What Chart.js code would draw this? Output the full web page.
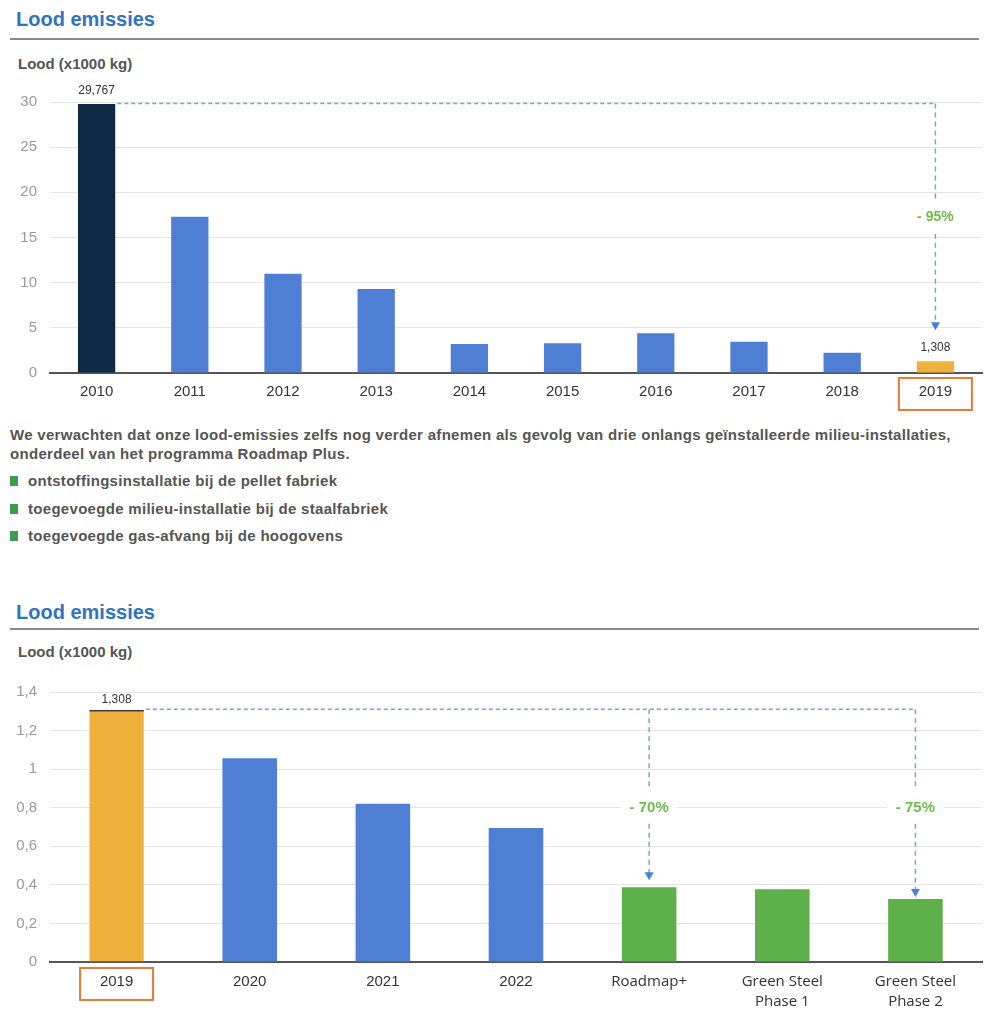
<!DOCTYPE html>
<html>
<head>
<meta charset="utf-8">
<script src="https://cdn.jsdelivr.net/npm/chart.js@4/dist/chart.umd.min.js"></script>
<style>
  html, body { margin:0; padding:0; background:#fff; }
  body { width:1007px; height:1024px; position:relative; overflow:hidden; font-family:"Liberation Sans", Arial, Helvetica, sans-serif; }
  .title { position:absolute; left:16px; font-size:20px; font-weight:bold; color:#2e74c0; line-height:24px; }
  .rule { position:absolute; left:10px; width:969px; height:2px; background:#8a8a8a; }
  .sub { position:absolute; left:18px; font-size:15px; font-weight:bold; color:#555; line-height:18px; }
  .para { position:absolute; left:10px; top:425px; font-size:15px; font-weight:bold; color:#555; line-height:19px; width:995px; letter-spacing:0.3px; white-space:nowrap; }
  .bul { position:absolute; left:28px; font-size:15px; font-weight:bold; color:#555; line-height:18px; letter-spacing:0.3px; white-space:nowrap; }
  .sq { position:absolute; left:10px; width:8px; height:10px; background:#3e9b4f; }
  canvas { position:absolute; left:0; }
</style>
</head>
<body>
<div class="title" style="top:7px">Lood emissies</div>
<div class="rule" style="top:38px"></div>
<div class="sub" style="top:55px">Lood (x1000 kg)</div>
<div style="position:absolute;left:0;top:80px;width:1007px;height:335px"><canvas id="c1"></canvas></div>

<div class="para">We verwachten dat onze lood-emissies zelfs nog verder afnemen als gevolg van drie onlangs geïnstalleerde milieu-installaties,<br>onderdeel van het programma Roadmap Plus.</div>
<div class="sq" style="top:476px"></div><div class="bul" style="top:472px">ontstoffingsinstallatie bij de pellet fabriek</div>
<div class="sq" style="top:504px"></div><div class="bul" style="top:500px">toegevoegde milieu-installatie bij de staalfabriek</div>
<div class="sq" style="top:531px"></div><div class="bul" style="top:527px">toegevoegde gas-afvang bij de hoogovens</div>

<div class="title" style="top:600px">Lood emissies</div>
<div class="rule" style="top:628px"></div>
<div class="sub" style="top:643px">Lood (x1000 kg)</div>
<div style="position:absolute;left:0;top:670px;width:1007px;height:350px"><canvas id="c2"></canvas></div>

<script>
// ---------- data ----------
const categories1 = ['2010','2011','2012','2013','2014','2015','2016','2017','2018','2019'];
const values1 = [29.767, 17.3, 11.0, 9.3, 3.2, 3.3, 4.4, 3.45, 2.25, 1.308];
const valueLabels1 = ['29,767', null, null, null, null, null, null, null, null, '1,308'];
const yTickValues1 = [0, 5, 10, 15, 20, 25, 30];
const yTickLabels1 = ['0', '5', '10', '15', '20', '25', '30'];

const categories2 = ['2019', '2020', '2021', '2022', 'Roadmap+', ['Green Steel', 'Phase 1'], ['Green Steel', 'Phase 2']];
const values2 = [1.308, 1.057, 0.82, 0.695, 0.388, 0.377, 0.327];
const valueLabels2 = ['1,308', null, null, null, null, null, null];
const yTickValues2 = [0, 0.2, 0.4, 0.6, 0.8, 1, 1.2, 1.4];
const yTickLabels2 = ['0', '0,2', '0,4', '0,6', '0,8', '1', '1,2', '1,4'];

const reductionLabels1 = ['- 95%'];
const reductionLabels2 = ['- 70%', '- 75%'];

// ---------- annotation plugin ----------
const annot = {
  id: 'annot',
  afterDatasetsDraw(chart, args, o) {
    const { ctx, chartArea, scales: { x, y } } = chart;
    const meta = chart.getDatasetMeta(0);
    ctx.save();
    ctx.font = '12px "Liberation Sans", Arial, sans-serif';
    ctx.fillStyle = '#333';
    ctx.textAlign = 'center';
    ctx.textBaseline = 'middle';
    o.valueLabels.forEach((t, i) => {
      if (!t) return;
      const b = meta.data[i];
      ctx.fillText(t, b.x, b.y - o.valueOffset);
    });
    const src = meta.data[o.from];
    const yTop = src.y - 0.5;
    const last = meta.data[o.targets[o.targets.length - 1].index];
    ctx.strokeStyle = '#78a2e6';
    ctx.lineWidth = 1.5;
    ctx.setLineDash([4, 3]);
    ctx.beginPath();
    ctx.moveTo(src.x + src.width / 2 + 2, yTop);
    ctx.lineTo(last.x, yTop);
    ctx.stroke();
    o.targets.forEach(t => {
      const b = meta.data[t.index];
      const tipY = b.y - t.gap;
      const labY = y.getPixelForValue(t.labelAt);
      ctx.strokeStyle = '#78a2e6';
      ctx.lineWidth = 1.5;
      ctx.setLineDash([5, 4]);
      ctx.beginPath();
      ctx.moveTo(b.x, yTop);
      ctx.lineTo(b.x, labY - t.gapAbove);
      ctx.moveTo(b.x, labY + t.gapBelow);
      ctx.lineTo(b.x, tipY - 7);
      ctx.stroke();
      ctx.setLineDash([]);
      ctx.fillStyle = '#4a7fdb';
      ctx.beginPath();
      ctx.moveTo(b.x - 4.5, tipY - 8);
      ctx.lineTo(b.x + 4.5, tipY - 8);
      ctx.lineTo(b.x, tipY);
      ctx.closePath();
      ctx.fill();
      ctx.font = 'bold ' + o.labelSize + 'px "Liberation Sans", Arial, sans-serif';
      const w = ctx.measureText(t.text).width;
      ctx.fillStyle = '#fff';
      ctx.fillRect(b.x - w / 2 - 9, labY - 9, w + 18, 18);
      ctx.fillStyle = '#6cbf4a';
      ctx.textAlign = 'center';
      ctx.textBaseline = 'middle';
      ctx.fillText(t.text, b.x, labY);
    });
    const bx = x.getPixelForValue(o.boxIndex);
    ctx.strokeStyle = '#e87a35';
    ctx.lineWidth = 2;
    ctx.strokeRect(bx - 36.5, chartArea.bottom + o.boxTop, 73, 32);
    ctx.restore();
  }
};

function makeChart(id, cats, vals, colors, yVals, yLabels, yMax, xHeight, barPct, annotOpts, fontFor) {
  return new Chart(document.getElementById(id), {
    type: 'bar',
    data: {
      labels: cats,
      datasets: [{
        data: vals,
        backgroundColor: colors,
        borderColor: '#3a3a3a',
        borderWidth: annotOpts.topBorder,
        borderSkipped: false,
        categoryPercentage: 1,
        barPercentage: barPct
      }]
    },
    options: {
      responsive: true,
      maintainAspectRatio: false,
      animation: false,
      layout: { padding: { top: 20, right: 25, left: 0, bottom: 0 } },
      plugins: { legend: { display: false }, tooltip: { enabled: false }, annot: annotOpts },
      scales: {
        x: {
          grid: { display: false, drawTicks: false },
          border: { display: true, color: '#555', width: 2 },
          ticks: { color: '#333', padding: 10, font: fontFor, maxRotation: 0, autoSkip: false },
          afterFit: s => { s.height = xHeight; }
        },
        y: {
          min: 0, max: yMax,
          grid: { color: '#e4e4e4', lineWidth: 1, drawTicks: false },
          border: { display: false },
          ticks: {
            color: '#9a9a9a', padding: 13,
            font: { family: '"Liberation Sans", Arial, sans-serif', size: 15 },
            callback: (v, i) => yLabels[i]
          },
          afterBuildTicks: s => { s.ticks = yVals.map(v => ({ value: v })); },
          afterFit: s => { s.width = 50; }
        }
      }
    },
    plugins: [annot]
  });
}

const c1colors = values1.map((v, i) => i === 0 ? '#0f2a44' : (i === 9 ? '#f0b13c' : '#4e7fd4'));
makeChart('c1', categories1, values1, c1colors, yTickValues1, yTickLabels1, 30, 42, 0.4, {
  valueLabels: valueLabels1, valueOffset: 13, from: 0, labelSize: 14, boxIndex: 9, boxTop: 5,
  topBorder: 0,
  targets: [{ index: 9, gap: 31, labelAt: 17.2, text: reductionLabels1[0], gapAbove: 18, gapBelow: 16 }]
}, { family: '"Liberation Sans", Arial, sans-serif', size: 15 });

const c2colors = values2.map((v, i) => i === 0 ? '#f0b13c' : (i < 4 ? '#4e7fd4' : '#5db04a'));
makeChart('c2', categories2, values2, c2colors, yTickValues2, yTickLabels2, 1.4, 58, 0.41, {
  valueLabels: valueLabels2, valueOffset: 10, from: 0, labelSize: 15, boxIndex: 0, boxTop: 6,
  topBorder: c => c.dataIndex === 0 ? { top: 2, left: 0, right: 0, bottom: 0 } : 0,
  targets: [
    { index: 4, gap: 7, labelAt: 0.8, text: reductionLabels2[0], gapAbove: 20, gapBelow: 16 },
    { index: 6, gap: 2, labelAt: 0.8, text: reductionLabels2[1], gapAbove: 20, gapBelow: 16 }
  ]
}, c => ({ family: c.index >= 4 ? '"Open Sans", Arial, sans-serif' : '"Liberation Sans", Arial, sans-serif', size: 15, lineHeight: 1.3 }));
</script>
</body>
</html>
